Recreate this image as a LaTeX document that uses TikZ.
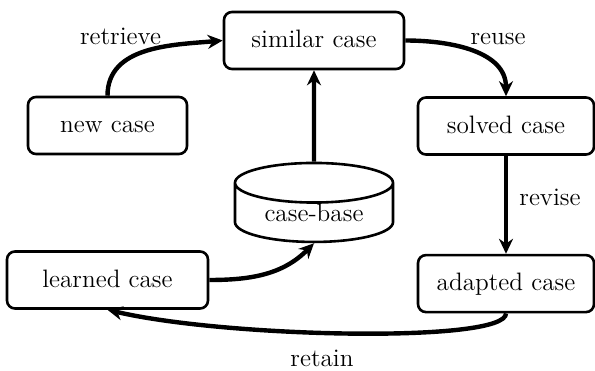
\documentclass[tikz,border=0pt]{standalone}
\usetikzlibrary{arrows.meta, shapes.geometric, positioning}
\newcommand{\casefont}{\rmfamily\fontsize{12.6}{15}\selectfont}
\tikzset{case/.style = {
  % Rectangle:
  rectangle,
  draw=black, line width=1.3pt, rounded corners=4pt,
  minimum height=28.5pt, inner sep=0pt,
  % Text
  text height=0.72em, text depth=0pt,
  font=\casefont
  }}
\tikzset{store/.style = {
  % Cylinder:
  cylinder, shape border rotate=90, aspect=0.4,
  draw=black, line width=1.3pt,
  minimum width=79pt, minimum height=39.5pt, inner sep=0pt,
  % Text
  font=\casefont
  }}
\tikzset{arrow/.style = {
  -{Stealth[length=7.5pt,width=7pt]},
  line width=2.2pt,
  draw=black
  }}
\tikzset{lbl/.style = {anchor=base, inner sep=0pt, font=\casefont}}

\begin{document}
\begin{tikzpicture}[x=0.5pt, y=0.5pt]
\useasboundingbox (0,0) rectangle (595,370);

% NODES
\node (similar) [case, minimum width=90pt] at (314,329.5) {similar case};
\node (newcase) [case, minimum width=79.5pt] at (107.5,244.5) {new case};
\node (solved) [case, minimum width=88pt] at (506,244) {solved case};
\node (adapted) [case, minimum width=88pt, below=49pt of solved] {adapted case};
\node (learned) [case, minimum width=100.5pt] at (107.5,90) {learned case};
\node (casebase) [store] at (314,157) {case-base};

% arrows
\draw [arrow] (newcase.north) to[out=90,in=185] (similar.west);
\draw [arrow] (similar.east) to[out=0,in=90] (solved.north);
\draw [arrow] (solved) -- (adapted);
\draw [arrow] (casebase) -- (similar);
\draw [arrow] (learned.east) to[out=0,in=225] (casebase.south);
\draw [arrow] (adapted.south) .. controls +(0,-30) and +(120,-28) .. (learned.south);

% step names
\node [lbl] at (120.5,325) {retrieve};
\node [lbl] at (498,325) {reuse};
\node [lbl] at (550,164.5) {revise};
\node [lbl] at (322,3.5) {retain};
\end{tikzpicture}
\end{document}
